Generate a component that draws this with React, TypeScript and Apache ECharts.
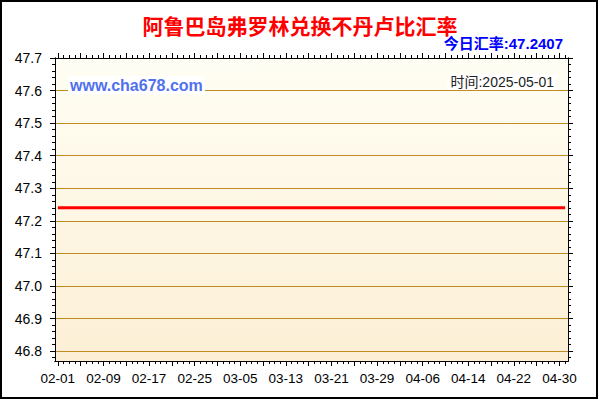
import React, { useEffect, useRef } from 'react';
import * as echarts from 'echarts';

// 汇率数据：阿鲁巴岛弗罗林 -> 不丹卢比
const dates = [
  '02-01', '02-02', '02-03', '02-04', '02-05', '02-06', '02-07', '02-08', '02-09', '02-10',
  '02-11', '02-12', '02-13', '02-14', '02-15', '02-16', '02-17', '02-18', '02-19', '02-20',
  '02-21', '02-22', '02-23', '02-24', '02-25', '02-26', '02-27', '02-28',
  '03-01', '03-02', '03-03', '03-04', '03-05', '03-06', '03-07', '03-08', '03-09', '03-10',
  '03-11', '03-12', '03-13', '03-14', '03-15', '03-16', '03-17', '03-18', '03-19', '03-20',
  '03-21', '03-22', '03-23', '03-24', '03-25', '03-26', '03-27', '03-28', '03-29', '03-30', '03-31',
  '04-01', '04-02', '04-03', '04-04', '04-05', '04-06', '04-07', '04-08', '04-09', '04-10',
  '04-11', '04-12', '04-13', '04-14', '04-15', '04-16', '04-17', '04-18', '04-19', '04-20',
  '04-21', '04-22', '04-23', '04-24', '04-25', '04-26', '04-27', '04-28', '04-29', '04-30',
  '05-01',
];

const rates = [
  47.2407, 47.2407, 47.2407, 47.2407, 47.2407, 47.2407, 47.2407, 47.2407, 47.2407, 47.2407,
  47.2407, 47.2407, 47.2407, 47.2407, 47.2407, 47.2407, 47.2407, 47.2407, 47.2407, 47.2407,
  47.2407, 47.2407, 47.2407, 47.2407, 47.2407, 47.2407, 47.2407, 47.2407,
  47.2407, 47.2407, 47.2407, 47.2407, 47.2407, 47.2407, 47.2407, 47.2407, 47.2407, 47.2407,
  47.2407, 47.2407, 47.2407, 47.2407, 47.2407, 47.2407, 47.2407, 47.2407, 47.2407, 47.2407,
  47.2407, 47.2407, 47.2407, 47.2407, 47.2407, 47.2407, 47.2407, 47.2407, 47.2407, 47.2407, 47.2407,
  47.2407, 47.2407, 47.2407, 47.2407, 47.2407, 47.2407, 47.2407, 47.2407, 47.2407, 47.2407,
  47.2407, 47.2407, 47.2407, 47.2407, 47.2407, 47.2407, 47.2407, 47.2407, 47.2407, 47.2407,
  47.2407, 47.2407, 47.2407, 47.2407, 47.2407, 47.2407, 47.2407, 47.2407, 47.2407, 47.2407,
  47.2407,
];

const yTicks = [46.8, 46.9, 47.0, 47.1, 47.2, 47.3, 47.4, 47.5, 47.6, 47.7];
const yMin = 46.77;
const yMax = 47.7;

const titleText = '阿鲁巴岛弗罗林兑换不丹卢比汇率';
const rateLabel = '今日汇率:';
const dateLabel = '时间:';
const year = '2025';
const siteText = 'www.cha678.com';

const FONT = '"Liberation Sans", Arial, "Noto Sans CJK SC", sans-serif';

// 小刻度：每 0.02 一个
const yMinorTicks: number[] = [];
[46.7, ...yTicks].forEach((t) => {
  for (let k = 1; k < 5; k++) {
    const v = Math.round((t + k * 0.02) * 1000) / 1000;
    if (v > yMin && v < yMax && !yTicks.includes(v)) yMinorTicks.push(v);
  }
});

function RateChart() {
  const chartRef = useRef<HTMLDivElement>(null);

  useEffect(() => {
    if (!chartRef.current) return;
    const chart = echarts.init(chartRef.current, undefined, { renderer: 'svg' });

    const lastRate = rates[rates.length - 1];
    const lastDate = `${year}-${dates[dates.length - 1]}`;

    const xBase = {
      type: 'category' as const,
      data: dates,
      boundaryGap: true,
      gridIndex: 0,
      axisLine: { show: true, onZero: false, lineStyle: { color: '#000', width: 1 } },
      splitLine: { show: false },
    };
    const yBase = {
      type: 'value' as const,
      min: yMin,
      max: yMax,
      gridIndex: 0,
      axisLine: { show: true, onZero: false, lineStyle: { color: '#000', width: 1 } },
    };

    const option: echarts.EChartsOption = {
      animation: false,
      backgroundColor: '#fff',
      grid: {
        left: 55,
        right: 32,
        top: 58,
        bottom: 39,
        show: true,
        borderWidth: 0,
        backgroundColor: new echarts.graphic.LinearGradient(0, 0, 0, 1, [
          { offset: 0, color: '#fffef4' },
          { offset: 1, color: '#fcefd5' },
        ]),
      },
      xAxis: [
        {
          ...xBase,
          position: 'bottom',
          axisTick: { show: true, interval: 3, alignWithLabel: true, length: 5, lineStyle: { color: '#000' } },
          axisLabel: {
            show: true,
            interval: 7,
            margin: 11,
            color: '#000',
            fontSize: 13.5,
            fontFamily: FONT,
          },
        },
        {
          ...xBase,
          position: 'bottom',
          axisTick: { show: true, interval: 0, alignWithLabel: true, length: 3, lineStyle: { color: '#000' } },
          axisLabel: { show: false },
        },
        {
          ...xBase,
          position: 'top',
          axisTick: { show: true, interval: 3, alignWithLabel: true, length: 5, lineStyle: { color: '#000' } },
          axisLabel: { show: false },
        },
        {
          ...xBase,
          position: 'top',
          axisTick: { show: true, interval: 0, alignWithLabel: true, length: 3, lineStyle: { color: '#000' } },
          axisLabel: { show: false },
        },
      ],
      yAxis: [
        {
          ...yBase,
          position: 'left',
          axisTick: { show: true, length: 5, customValues: yTicks, lineStyle: { color: '#000' } },
          axisLabel: {
            show: true,
            customValues: yTicks,
            margin: 13,
            color: '#000',
            fontSize: 14,
            fontFamily: FONT,
            formatter: (v: number) => v.toFixed(1),
          },
          splitLine: { show: true, lineStyle: { color: '#c08c22', width: 1 } },
        },
        {
          ...yBase,
          position: 'left',
          axisTick: { show: true, length: 3, customValues: yMinorTicks, lineStyle: { color: '#000' } },
          axisLabel: { show: false },
          splitLine: { show: false },
        },
        {
          ...yBase,
          position: 'right',
          axisTick: { show: true, length: 5, customValues: yTicks, lineStyle: { color: '#000' } },
          axisLabel: { show: false },
          splitLine: { show: false },
        },
        {
          ...yBase,
          position: 'right',
          axisTick: { show: true, length: 3, customValues: yMinorTicks, lineStyle: { color: '#000' } },
          axisLabel: { show: false },
          splitLine: { show: false },
        },
      ],
      series: [
        {
          name: titleText,
          type: 'line',
          xAxisIndex: 0,
          yAxisIndex: 0,
          data: rates,
          symbol: 'none',
          lineStyle: { color: '#ff0000', width: 3 },
          z: 5,
        },
      ],
      graphic: [
        {
          type: 'rect',
          shape: { x: 1, y: 1, width: 596, height: 397 },
          style: { fill: 'none', stroke: '#000', lineWidth: 2 },
          z: 100,
        },
        {
          type: 'text',
          x: 300,
          y: 25,
          style: {
            text: titleText,
            fill: '#ff0000',
            fontSize: 21,
            fontWeight: 'bold',
            fontFamily: '"Noto Sans CJK SC", sans-serif',
            align: 'center',
            verticalAlign: 'middle',
          },
        },
        {
          type: 'text',
          x: 563,
          y: 43,
          style: {
            text: `${rateLabel}${lastRate.toFixed(4)}`,
            fill: '#0000ff',
            fontSize: 15,
            fontWeight: 'bold',
            fontFamily: FONT,
            align: 'right',
            verticalAlign: 'middle',
          },
        },
        {
          type: 'text',
          x: 68,
          y: 85,
          z: 50,
          style: {
            text: siteText,
            fill: '#5170ee',
            fontSize: 16,
            fontWeight: 'bold',
            fontFamily: FONT,
            align: 'left',
            verticalAlign: 'middle',
            backgroundColor: '#ffffff',
            padding: [1, 2, 1, 2],
          },
        },
        {
          type: 'text',
          x: 557,
          y: 82,
          z: 50,
          style: {
            text: `${dateLabel}${lastDate}`,
            fill: '#222',
            fontSize: 14,
            fontFamily: FONT,
            align: 'right',
            verticalAlign: 'middle',
            backgroundColor: '#ffffff',
            padding: [1, 3, 1, 3],
          },
        },
      ],
    };

    chart.setOption(option);

    return () => {
      chart.dispose();
    };
  }, []);

  return (
    <div
      ref={chartRef}
      style={{ position: 'fixed', left: 0, top: 0, width: '600px', height: '400px' }}
    />
  );
}

export default function App() {
  return <RateChart />;
}
